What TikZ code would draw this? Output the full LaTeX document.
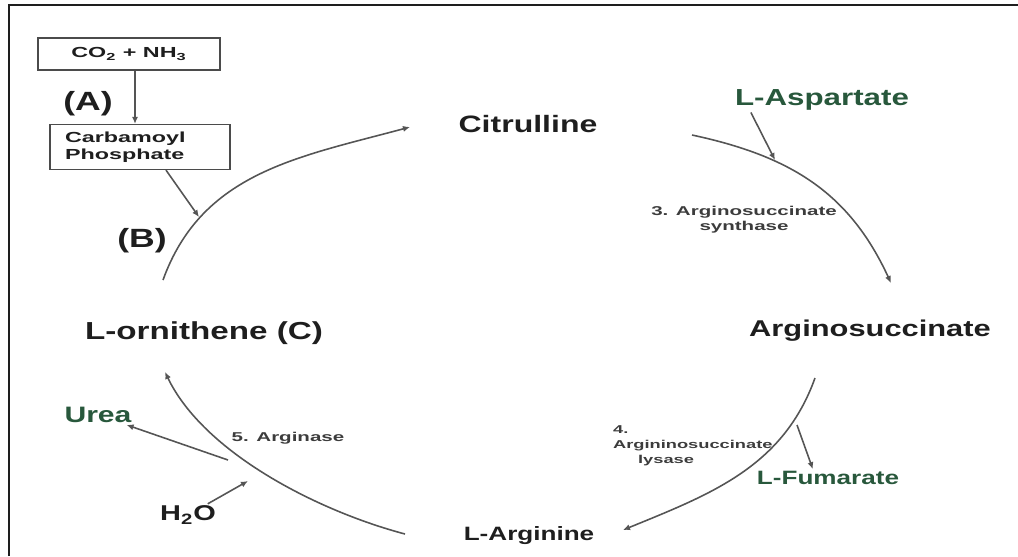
\documentclass[tikz,border=0pt]{standalone}
\usepackage{fontspec}
\setmainfont{Liberation Sans}
\newfontfamily\bigfont{Liberation Sans}[FakeStretch=1.35]
\newfontfamily\smallfont{Liberation Sans}[FakeStretch=1.6]
\usetikzlibrary{arrows.meta}
\definecolor{ink}{RGB}{30,30,30}
\definecolor{leaf}{RGB}{40,88,60}
\definecolor{wire}{RGB}{85,85,85}
\definecolor{enz}{RGB}{60,60,60}

\begin{document}
\begin{tikzpicture}[x=0.02cm, y=-0.02cm,
    % Estilos de textos, cajas y flechas
    met/.style={font=\bigfont\bfseries\fontsize{#1}{#1}\selectfont, text=ink, inner sep=1pt},
    side/.style={font=\bigfont\bfseries\fontsize{#1}{#1}\selectfont, text=leaf, inner sep=1pt},
    enzyme/.style={font=\smallfont\bfseries\fontsize{#1}{8.6}\selectfont, text=enz, inner sep=1pt, align=center},
    box/.style={draw=ink!80, line width=0.7pt, font=\smallfont\bfseries\fontsize{8.3}{9.6}\selectfont, text=ink},
    flow/.style={draw=wire, line width=0.9pt, -{Latex[length=4pt,width=3.5pt]}}
]
\useasboundingbox (0,0) rectangle (1018,556);

% ---------------------------------------------------------
% 1. MARCO
% ---------------------------------------------------------
\draw[ink, line width=1.2pt] (9,556) -- (9,5) -- (1018,5);

% ---------------------------------------------------------
% 2. NODOS
% ---------------------------------------------------------
% Entrada (cajas)
\node[box, minimum width=3.64cm, minimum height=0.64cm] (co2) at (129,54) {CO\textsubscript{2} + NH\textsubscript{3}};
\node[box, text width=3.0cm, inner xsep=0.3cm, minimum height=0.9cm, align=left] (carb) at (140,147) {Carbamoyl\\Phosphate};
\node[met=15] (lblA) at (88,104) {(A)};
\node[met=15] (lblB) at (142,241) {(B)};

% Metabolitos del ciclo
\node[met=13.5] (cit) at (528,124) {Citrulline};
\node[met=13] (argsuc) at (870,331) {Arginosuccinate};
\node[met=11] (argn) at (529,536) {L-Arginine};
\node[met=14] (orn) at (204,333) {L-ornithene (C)};

% Entradas y salidas laterales
\node[side=13.2] (asp) at (822,100) {L-Aspartate};
\node[side=11] (fum) at (828,478) {L-Fumarate};
\node[side=12.7] (urea) at (98,415) {Urea};
\node[met=12.2] (water) at (188,515) {H\textsubscript{2}O};

% Enzimas
\node[enzyme=7.3] (enz3) at (744,220) {3. Arginosuccinate\\synthase};
\node[enzyme=6.5, align=left, anchor=west] (enz4) at (611,446) {4.\\Argininosuccinate\\\hspace*{0.5cm}lysase};
\node[enzyme=7.3] (enz5) at (288,438) {5. Arginase};

% Extremos de los arcos
\coordinate (ornN) at (163,280);
\coordinate (citW) at (410,127);
\coordinate (citE) at (692,135);
\coordinate (sucN) at (891,283);
\coordinate (sucS) at (815,378);
\coordinate (argE) at (623,530);
\coordinate (argW) at (405,534);
\coordinate (ornS) at (165,372);
\coordinate (cpin) at (199,217);
\coordinate (aspin) at (775,160);
\coordinate (fumout) at (797,425);
\coordinate (ureaout) at (228,460);
\coordinate (waterin) at (248,481);

% ---------------------------------------------------------
% 3. FLECHAS
% ---------------------------------------------------------
% Ciclo
\draw[flow] (ornN) .. controls +(39,-108) and +(-111,30) .. (citW);
\draw[flow] (citE) .. controls +(98,21) and +(-42,-91) .. (sucN);
\draw[flow] (sucS) .. controls +(-32,89) and +(88,-36) .. (argE);
\draw[flow] (argW) .. controls +(-87,-23) and +(39,81) .. (ornS);

% Laterales
\draw[flow] ([xshift=0.12cm]co2.south) -- ([xshift=0.12cm]co2.south |- carb.north);
\draw[flow] ([xshift=0.52cm]carb.south) -- (cpin);
\draw[flow] ([xshift=0.36cm]asp.south west) -- (aspin);
\draw[flow] (fumout) -- ([xshift=1.16cm]fum.north west);
\draw[flow] (ureaout) -- (urea);
\draw[flow] (water) -- (waterin);

\end{tikzpicture}
\end{document}
